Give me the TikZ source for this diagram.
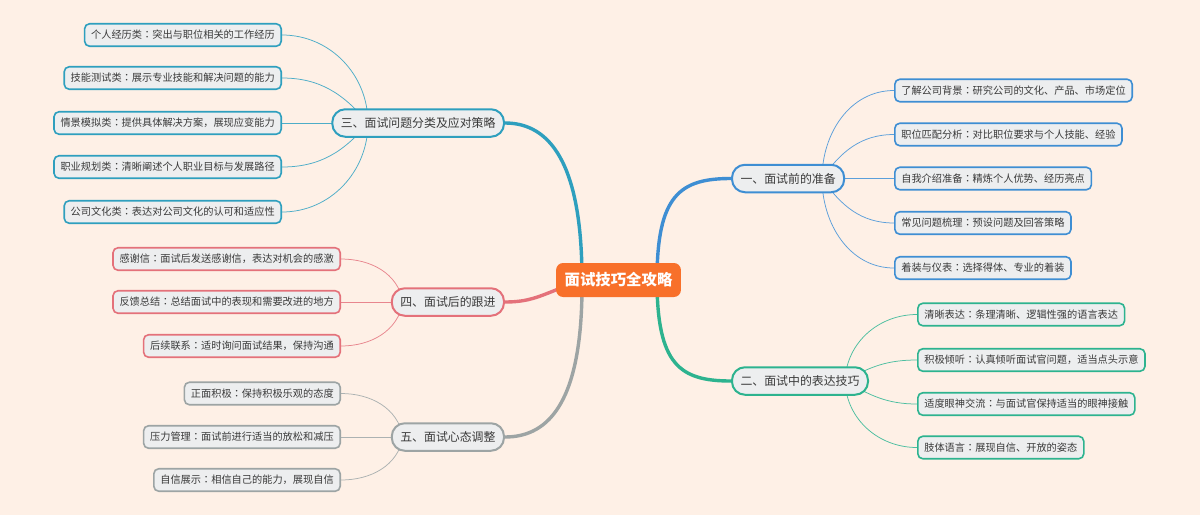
\documentclass[tikz,border=0pt]{standalone}
\usepackage{fontspec}
\newfontfamily\cjk{Noto Sans CJK SC}
\newfontfamily\cjkjp{Noto Sans CJK JP}
\newcommand\cln{{\cjkjp ：}}
\usetikzlibrary{calc}
\definecolor{bgc}{HTML}{FEF0E6}
\definecolor{orng}{HTML}{F8702A}
\definecolor{cblue}{HTML}{3E8ED3}
\definecolor{cteal}{HTML}{2DB38F}
\definecolor{ccyan}{HTML}{2E9FBE}
\definecolor{cred}{HTML}{E4717A}
\definecolor{cgray}{HTML}{9DA4A4}
\definecolor{nfill}{HTML}{EDEEEF}
\definecolor{txt}{HTML}{3A3A3A}
\pgfdeclarelayer{bg}
\pgfsetlayers{bg,main}
\tikzset{
  leaf/.style={draw=#1, fill=nfill, rounded corners=5pt, line width=1.6pt,
    inner xsep=6.5pt, inner ysep=0pt, minimum height=22.5pt, text=txt,
    font=\cjk\fontsize{10.2}{12}\selectfont},
  topic/.style={draw=#1, fill=nfill, rounded corners=13pt, line width=2pt,
    inner xsep=8.5pt, inner ysep=0pt, minimum height=27.5pt, text=txt,
    font=\cjk\fontsize{11.9}{14}\selectfont},
  root/.style={fill=orng, rounded corners=7pt, inner xsep=8.5pt, inner ysep=0pt,
    minimum height=34pt, text=white, font=\cjk\bfseries\fontsize{15.4}{18}\selectfont},
  mainline/.style={draw=#1, line width=3.4pt, line cap=round},
  subline/.style={draw=#1!85, line width=0.75pt},
}
\begin{document}
\begin{tikzpicture}[x=1pt,y=-1pt]
\begin{pgfonlayer}{bg}
\fill[bgc] (0,0) rectangle (1200,515);
\end{pgfonlayer}
\useasboundingbox (0,0) rectangle (1200,515);

% root
\node[root] (r) at (618.5,280) {面试技巧全攻略};

% topics
\node[topic=cblue, anchor=west] (b1) at (731,178.5) {一、面试前的准备};
\node[topic=cteal, anchor=west] (b2) at (731,381) {二、面试中的表达技巧};
\node[topic=ccyan, anchor=east] (b3) at (505,123) {三、面试问题分类及应对策略};
\node[topic=cred, anchor=east] (b4) at (505,302) {四、面试后的跟进};
\node[topic=cgray, anchor=east] (b5) at (505,437) {五、面试心态调整};

% leaves of b1
\node[leaf=cblue, anchor=west] (a1) at (894,90.5) {了解公司背景\cln 研究公司的文化、产品、市场定位};
\node[leaf=cblue, anchor=west] (a2) at (894,134.5) {职位匹配分析\cln 对比职位要求与个人技能、经验};
\node[leaf=cblue, anchor=west] (a3) at (894,178.5) {自我介绍准备\cln 精炼个人优势、经历亮点};
\node[leaf=cblue, anchor=west] (a4) at (894,223) {常见问题梳理\cln 预设问题及回答策略};
\node[leaf=cblue, anchor=west] (a5) at (894,268) {着装与仪表\cln 选择得体、专业的着装};

% leaves of b2
\node[leaf=cteal, anchor=west] (c1) at (917,314.5) {清晰表达\cln 条理清晰、逻辑性强的语言表达};
\node[leaf=cteal, anchor=west] (c2) at (917,360) {积极倾听\cln 认真倾听面试官问题，适当点头示意};
\node[leaf=cteal, anchor=west] (c3) at (917,404) {适度眼神交流\cln 与面试官保持适当的眼神接触};
\node[leaf=cteal, anchor=west] (c4) at (917,447.5) {肢体语言\cln 展现自信、开放的姿态};

% leaves of b3
\node[leaf=ccyan, anchor=east] (d1) at (282,35) {个人经历类\cln 突出与职位相关的工作经历};
\node[leaf=ccyan, anchor=east] (d2) at (282,78) {技能测试类\cln 展示专业技能和解决问题的能力};
\node[leaf=ccyan, anchor=east] (d3) at (282,123) {情景模拟类\cln 提供具体解决方案，展现应变能力};
\node[leaf=ccyan, anchor=east] (d4) at (282,167) {职业规划类\cln 清晰阐述个人职业目标与发展路径};
\node[leaf=ccyan, anchor=east] (d5) at (282,212) {公司文化类\cln 表达对公司文化的认可和适应性};

% leaves of b4
\node[leaf=cred, anchor=east] (e1) at (341,259) {感谢信\cln 面试后发送感谢信，表达对机会的感激};
\node[leaf=cred, anchor=east] (e2) at (341,302) {反馈总结\cln 总结面试中的表现和需要改进的地方};
\node[leaf=cred, anchor=east] (e3) at (341,346) {后续联系\cln 适时询问面试结果，保持沟通};

% leaves of b5
\node[leaf=cgray, anchor=east] (f1) at (341,393.5) {正面积极\cln 保持积极乐观的态度};
\node[leaf=cgray, anchor=east] (f2) at (341,437) {压力管理\cln 面试前进行适当的放松和减压};
\node[leaf=cgray, anchor=east] (f3) at (341,480) {自信展示\cln 相信自己的能力，展现自信};

% hidden start points
\coordinate (rR) at (657,280);
\coordinate (rL) at (582,280);
\coordinate (rW) at (566,286);
\coordinate (s1) at (822,178.5);
\coordinate (s2) at (845,381);
\coordinate (s3) at (368,123);
\coordinate (s4) at (403,302);
\coordinate (s5) at (403,437);

\begin{pgfonlayer}{bg}
% main branches
\draw[mainline=cblue] (rR) .. controls (657,195) and (680,178.5) .. (b1.west);
\draw[mainline=cteal] (rR) .. controls (657,365) and (680,381) .. (b2.west);
\draw[mainline=ccyan] (b3.east) .. controls (542,123) and (582,150) .. (rL);
\draw[mainline=cred] (b4.east) .. controls (530,302) and (540,296) .. (rW);
\draw[mainline=cgray] (b5.east) .. controls (550,437) and (583,400) .. (rL);
% sub branches
\draw[subline=cblue] (s1) to[out=90,in=180] (a1.west);
\draw[subline=cblue] (s1) to[out=55,in=180] (a2.west);
\draw[subline=cblue] (s1) -- (a3.west);
\draw[subline=cblue] (s1) to[out=-55,in=180] (a4.west);
\draw[subline=cblue] (s1) to[out=-90,in=180] (a5.west);
\draw[subline=cteal] (s2) to[out=88,in=180] (c1.west);
\draw[subline=cteal] (s2) to[out=30,in=180] (c2.west);
\draw[subline=cteal] (s2) to[out=-30,in=180] (c3.west);
\draw[subline=cteal] (s2) to[out=-88,in=180] (c4.west);
\draw[subline=ccyan] (s3) to[out=90,in=0] (d1.east);
\draw[subline=ccyan] (s3) to[out=130,in=0] (d2.east);
\draw[subline=ccyan] (s3) -- (d3.east);
\draw[subline=ccyan] (s3) to[out=230,in=0] (d4.east);
\draw[subline=ccyan] (s3) to[out=270,in=0] (d5.east);
\draw[subline=cred] (s4) to[out=100,in=0] (e1.east);
\draw[subline=cred] (s4) -- (e2.east);
\draw[subline=cred] (s4) to[out=260,in=0] (e3.east);
\draw[subline=cgray] (s5) to[out=100,in=0] (f1.east);
\draw[subline=cgray] (s5) -- (f2.east);
\draw[subline=cgray] (s5) to[out=260,in=0] (f3.east);
\end{pgfonlayer}
\end{tikzpicture}
\end{document}
